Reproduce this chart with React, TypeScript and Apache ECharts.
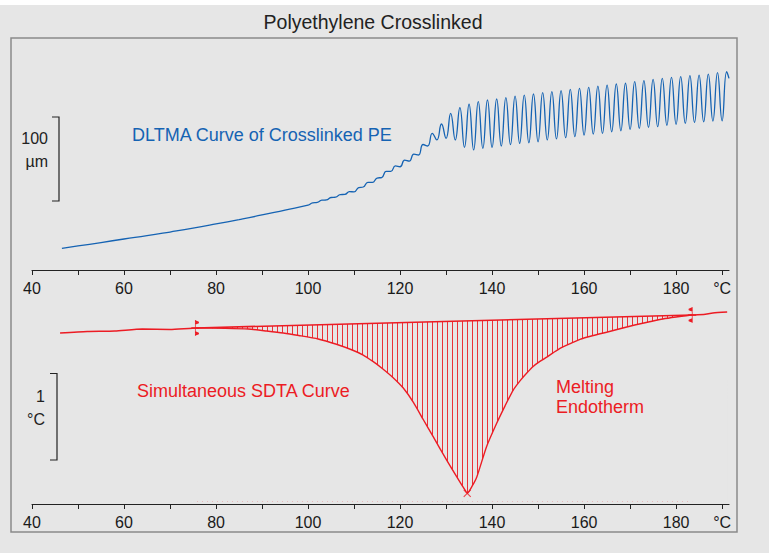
import { useEffect, useRef } from 'react';
import * as echarts from 'echarts';

// x axis ticks and labels (°C)
const xTicks = [40, 50, 60, 70, 80, 90, 100, 110, 120, 130, 140, 150, 160, 170, 180, 190];
const xLabels = [40, 60, 80, 100, 120, 140, 160, 180, 190];

// DLTMA curve: temperature (°C) and length change (µm, arbitrary offset)
const dltmaT = [
  46.5, 50, 55, 60, 65, 70, 75, 80, 85, 90, 95,
  100, 101, 102, 103, 104, 105, 106, 107, 108, 109, 110, 111, 112, 113, 114, 115, 116,
  117, 118, 119, 120, 121, 122, 123, 124, 125, 126, 127, 128, 129, 130, 131, 132,
  133, 134, 135, 136, 137, 138, 139, 140, 141, 142, 143, 144, 145, 146, 147, 148, 149, 150,
  151, 152, 153, 154, 155, 156, 157, 158, 159, 160, 161, 162, 163, 164, 165, 166, 167, 168,
  169, 170, 171, 172, 173, 174, 175, 176, 177, 178, 179, 180, 181, 182, 183, 184, 185, 186,
  187, 188, 189, 190, 191, 191.5,
];
const dltmaUm = [
  25.8, 28.6, 32.7, 36.9, 40.8, 45.2, 49.8, 54.8, 60.0, 65.5, 71.4,
  77.1, 79.9, 80.4, 83.1, 83.5, 86.3, 86.7, 89.8, 90.0, 93.2, 93.1, 98.0, 98.8, 104.4, 104.2, 109.5, 110.1,
  117.5, 117.3, 124.0, 122.9, 130.7, 129.5, 137.9, 136.9, 149.4, 147.6, 162.7, 154.8, 173.8, 156.8, 186.5, 154.8,
  193.2, 146.1, 197.3, 142.9, 200.4, 144.9, 202.4, 146.1, 203.6, 147.6, 205.1, 149.2, 207.1, 150.8, 208.3, 151.5, 209.5, 152.7,
  211.1, 154.8, 212.3, 156.0, 213.5, 157.5, 215.1, 158.7, 216.3, 160.7, 217.5, 161.9, 219.0, 162.7, 220.2, 164.6, 221.4, 165.8,
  222.3, 167.5, 224.2, 168.7, 225.4, 169.9, 227.0, 170.6, 228.2, 172.3, 229.4, 173.5, 230.1, 174.6, 231.3, 175.8, 232.1, 176.5,
  233.3, 177.4, 234.9, 177.7, 236.1, 228.2,
];

// SDTA curve: temperature (°C) and temperature difference (°C, arbitrary offset)
const sdtaT = [
  46.1, 52, 58, 64, 70, 76, 82, 87, 91, 94.6, 98, 102.2, 106, 109.6, 112, 114.1, 116, 118.5,
  120.7, 122.9, 125.1, 127.2, 130.1, 132.3, 134.1, 134.6, 135.6, 136.7, 138.8, 141, 142.8, 144.6,
  146.2, 147.6, 149, 150.4, 152.3, 154.6, 157, 159.1, 162, 165.1, 168, 171, 174, 177.1, 180, 183.5, 186, 188, 191.1,
];
const sdtaC = [
  1.973, 1.99, 1.996, 2.019, 2.014, 2.031, 2.027, 2.019, 1.996, 1.973, 1.944, 1.904, 1.846, 1.777, 1.719, 1.645, 1.57, 1.458,
  1.338, 1.173, 0.969, 0.777, 0.508, 0.315, 0.162, 0.123, 0.2, 0.315, 0.661, 0.931, 1.13, 1.315,
  1.43, 1.515, 1.59, 1.645, 1.71, 1.79, 1.85, 1.9, 1.944, 1.985, 2.025, 2.065, 2.1, 2.135, 2.158, 2.181, 2.187, 2.204, 2.215,
];

// Integration baseline of the melting endotherm
const baselineT = [75.5, 183.5];
const baselineC = [2.031, 2.181];

// Peak of the endotherm
const peakT = [134.6];
const peakC = [0.123];

const BG = '#e6e6e6';
const BLUE = '#1563b3';
const RED = '#ec1c24';
const FONT = '"Liberation Sans", Arial, sans-serif';

function makeHatch() {
  const c = document.createElement('canvas');
  c.width = 5;
  c.height = 4;
  const ctx = c.getContext('2d');
  if (ctx) {
    ctx.fillStyle = 'rgba(236,28,36,0.9)';
    ctx.fillRect(2, 0, 1, 4);
  }
  return { image: c.toDataURL(), repeat: 'repeat', imageWidth: 5, imageHeight: 4 };
}

function txt(x: number, y: number, text: string, fill: string, align: string, size = 16) {
  return {
    type: 'text',
    x,
    y,
    z: 100,
    style: {
      text,
      fill,
      fontSize: size,
      fontFamily: FONT,
      align,
      textAlign: align,
      verticalAlign: 'middle',
      textVerticalAlign: 'middle',
    },
  };
}

export default function App() {
  const ref = useRef<HTMLDivElement>(null);
  useEffect(() => {
    if (!ref.current) return;
    const chart = echarts.init(ref.current, null, { renderer: 'svg' });
    const zip = (a: number[], b: number[]) => a.map((v, i) => [v, b[i]]);
    const xAxisBase = (gridIndex: number) => ({
      type: 'value',
      gridIndex,
      min: 40,
      max: 191.5,
      axisLine: { show: true, onZero: false, lineStyle: { color: '#222', width: 1.1 } },
      axisTick: { show: true, length: 5, customValues: xTicks, lineStyle: { color: '#222', width: 1 } },
      axisLabel: {
        customValues: xLabels,
        formatter: (v: number) => (v === 190 ? '°C' : String(v)),
        color: '#1a1a1a',
        fontSize: 16,
        fontFamily: FONT,
        margin: 10,
      },
      splitLine: { show: false },
      z: 5,
    });
    const baseData = baselineT.map((t, i) => ({
      value: [t, baselineC[i]],
      symbol:
        i === 0
          ? 'path://M0,8L8,8M4,0L4,16M4,1L7.5,2.5L4,4ZM4,12L7.5,13.5L4,15Z'
          : 'path://M0,8L8,8M4,0L4,16M4,1L0.5,2.5L4,4ZM4,12L0.5,13.5L4,15Z',
    }));
    chart.setOption({
      animation: false,
      backgroundColor: BG,
      grid: [
        { left: 32, top: 60, width: 697, height: 210 },
        { left: 32, top: 296, width: 697, height: 208 },
      ],
      xAxis: [xAxisBase(0), xAxisBase(1)],
      yAxis: [
        { type: 'value', gridIndex: 0, min: 0, max: 250, show: false },
        { type: 'value', gridIndex: 1, min: 0, max: 2.4, show: false },
      ],
      series: [
        {
          type: 'line',
          name: 'DLTMA',
          xAxisIndex: 0,
          yAxisIndex: 0,
          data: zip(dltmaT, dltmaUm),
          smooth: 0.5,
          showSymbol: false,
          symbol: 'none',
          lineStyle: { color: BLUE, width: 1.3 },
          z: 3,
        },
        {
          type: 'line',
          name: 'hatch',
          xAxisIndex: 1,
          yAxisIndex: 1,
          data: zip(baselineT, baselineC),
          symbol: 'none',
          lineStyle: { width: 0, opacity: 0 },
          areaStyle: { color: makeHatch(), origin: 0.03, opacity: 1 },
          z: 2,
        },
        {
          type: 'line',
          name: 'SDTA',
          xAxisIndex: 1,
          yAxisIndex: 1,
          data: zip(sdtaT, sdtaC),
          smooth: 0.2,
          symbol: 'none',
          lineStyle: { color: RED, width: 1.4 },
          areaStyle: { color: BG, origin: 0.03, opacity: 1 },
          z: 3,
        },
        {
          type: 'line',
          name: 'baseline',
          xAxisIndex: 1,
          yAxisIndex: 1,
          data: baseData,
          showSymbol: true,
          symbolSize: [8, 16],
          itemStyle: { color: RED, borderColor: RED, borderWidth: 1 },
          lineStyle: { color: RED, width: 1.6 },
          z: 4,
        },
        {
          type: 'scatter',
          name: 'peak',
          xAxisIndex: 1,
          yAxisIndex: 1,
          data: zip(peakT, peakC),
          symbol: 'path://M0,0L6,6M6,0L0,6',
          symbolSize: 7,
          itemStyle: { color: 'none', borderColor: RED, borderWidth: 1.1 },
          z: 5,
        },
      ],
      graphic: [
        { type: 'rect', z: 0, shape: { x: 0, y: 0, width: 769, height: 5 }, style: { fill: '#ffffff' } },
        {
          type: 'rect',
          z: 100,
          shape: { x: 11, y: 38, width: 726, height: 494 },
          style: { fill: 'none', stroke: '#8a8a8a', lineWidth: 1.5 },
        },
        txt(373, 22, 'Polyethylene Crosslinked', '#222', 'center', 19.5),
        txt(132, 135, 'DLTMA Curve of Crosslinked PE', BLUE, 'left', 18),
        txt(137, 391, 'Simultaneous SDTA Curve', RED, 'left', 18),
        txt(556, 387, 'Melting', RED, 'left', 18),
        txt(556, 407, 'Endotherm', RED, 'left', 18),
        {
          type: 'polyline',
          z: 100,
          shape: { points: [[52, 117], [59, 117], [59, 201], [52, 201]] },
          style: { stroke: '#222', lineWidth: 1.2, fill: 'none' },
        },
        txt(48, 138, '100', '#222', 'right', 16),
        txt(48, 161, 'µm', '#222', 'right', 16),
        {
          type: 'polyline',
          z: 100,
          shape: { points: [[50, 373.5], [57, 373.5], [57, 460], [50, 460]] },
          style: { stroke: '#222', lineWidth: 1.2, fill: 'none' },
        },
        txt(45, 396, '1', '#222', 'right', 16),
        txt(45, 419, '°C', '#222', 'right', 16),
      ],
    });
    return () => chart.dispose();
  }, []);
  return (
    <div
      ref={ref}
      style={{ position: 'fixed', left: 0, top: 0, width: 769, height: 553 }}
    />
  );
}
